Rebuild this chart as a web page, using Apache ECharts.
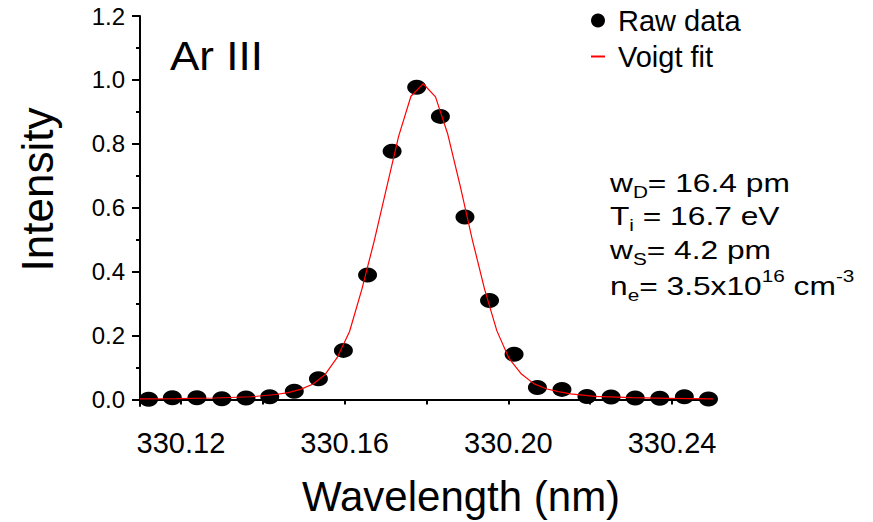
<!DOCTYPE html>
<html>
<head>
<meta charset="utf-8">
<title>Ar III line</title>
<script src="https://cdn.jsdelivr.net/npm/echarts@6/dist/echarts.min.js"></script>
<style>
  html, body { margin: 0; padding: 0; background: #fff; }
  #lineBox { width: 873px; height: 522px; }
</style>
</head>
<body>
<div id="lineBox"></div>
<script>
// measured points (nm, normalised intensity)
const rawX = [330.1121, 330.1179, 330.1239, 330.1300, 330.1359, 330.1417, 330.1477, 330.1536,
  330.1597, 330.1656, 330.1716, 330.1776, 330.1834, 330.1894, 330.1954, 330.2014,
  330.2071, 330.2131, 330.2192, 330.2251, 330.2310, 330.2370, 330.2430, 330.2489]
const rawY = [0.001, 0.006, 0.006, 0.003, 0.005, 0.009, 0.026, 0.065,
  0.154, 0.390, 0.777, 0.977, 0.886, 0.571, 0.310, 0.142,
  0.038, 0.032, 0.010, 0.008, 0.005, 0.004, 0.009, 0.002]

// voigt fit curve
const fitX = [330.1100, 330.1192, 330.1282, 330.1372, 330.1432, 330.1462, 330.1492, 330.1522,
  330.1552, 330.1582, 330.1612, 330.1642, 330.1672, 330.1702, 330.1732, 330.1762,
  330.1792, 330.1822, 330.1852, 330.1882, 330.1912, 330.1942, 330.1972, 330.2002,
  330.2032, 330.2062, 330.2092, 330.2122, 330.2152, 330.2212, 330.2302, 330.2392, 330.2500]
const fitY = [0.002, 0.003, 0.005, 0.009, 0.016, 0.022, 0.032, 0.048,
  0.078, 0.132, 0.213, 0.345, 0.495, 0.660, 0.824, 0.949,
  0.988, 0.947, 0.830, 0.670, 0.500, 0.345, 0.215, 0.128,
  0.080, 0.050, 0.034, 0.025, 0.018, 0.010, 0.006, 0.004, 0.002]

const xTicks = [330.12, 330.14, 330.16, 330.18, 330.20, 330.22, 330.24]
const xLabels = [330.12, 330.16, 330.20, 330.24]
const yLabels = [0.0, 0.2, 0.4, 0.6, 0.8, 1.0, 1.2]
const yMinorTicks = [0.1, 0.3, 0.5, 0.7, 0.9, 1.1]

const fontFam = 'Arial, "Liberation Sans", sans-serif'

const makeLineChart = () => {
  const chartDom = echarts.init(document.getElementById('lineBox'), null, { renderer: 'svg' })

  const rawData = rawX.map((x, i) => [x, rawY[i]])
  const fitData = fitX.map((x, i) => [x, fitY[i]])

  const annoRich = {
    b: { fontSize: 26, lineHeight: 36, fontFamily: fontFam, color: '#000' },
    sub: { fontSize: 17, lineHeight: 22, verticalAlign: 'bottom', fontFamily: fontFam, color: '#000' },
    sup: { fontSize: 17, lineHeight: 20, verticalAlign: 'top', fontFamily: fontFam, color: '#000' }
  }
  const annoLines = [
    '{b|w}{sub|D}{b|= 16.4 pm}',
    '{b|T}{sub|i}{b| = 16.7 eV}',
    '{b|w}{sub|S}{b|= 4.2 pm}',
    '{b|n}{sub|e}{b|= 3.5x10}{sup|16}{b| cm}{sup|-3}'
  ]
  const annoY = [183, 216, 250, 286]

  let option = {
    backgroundColor: '#fff',
    animation: false,
    grid: { left: 140, right: 160, top: 16, bottom: 114 },
    legend: {
      orient: 'vertical',
      left: 591,
      top: 6,
      padding: 0,
      itemWidth: 14,
      itemHeight: 14,
      itemGap: 7,
      textStyle: { fontSize: 29, color: '#000', fontFamily: fontFam, padding: [0, 0, 0, 8] },
      data: [
        { name: 'Raw data', icon: 'circle' },
        { name: 'Voigt fit', icon: 'path://M0,0H14V2H0Z' }
      ]
    },
    xAxis: {
      type: 'value',
      min: 330.11,
      max: 330.25,
      name: 'Wavelength (nm)',
      nameLocation: 'middle',
      nameGap: 69,
      nameTextStyle: { fontSize: 42, color: '#000', fontFamily: fontFam, padding: [0, 0, 0, 69] },
      axisLine: { lineStyle: { color: '#000', width: 2 } },
      axisTick: { customValues: xTicks, length: 5, lineStyle: { color: '#000', width: 2 } },
      axisLabel: {
        customValues: xLabels,
        margin: 22,
        fontSize: 29,
        color: '#000',
        fontFamily: fontFam,
        formatter: v => v.toFixed(2)
      },
      splitLine: { show: false }
    },
    yAxis: [
      {
        type: 'value',
        min: -0.02,
        max: 1.2,
        name: 'Intensity',
        nameLocation: 'middle',
        nameRotate: 90,
        nameGap: 81,
        nameTextStyle: { fontSize: 44, color: '#000', fontFamily: fontFam, padding: [0, 0, 0, 43] },
        axisLine: { show: true, lineStyle: { color: '#000', width: 2 } },
        axisTick: { customValues: yLabels, length: 8, lineStyle: { color: '#000', width: 2 } },
        axisLabel: {
          customValues: yLabels,
          margin: 15,
          fontSize: 24,
          color: '#000',
          fontFamily: fontFam,
          formatter: v => v.toFixed(1)
        },
        splitLine: { show: false }
      },
      {
        // minor ticks only
        type: 'value',
        min: -0.02,
        max: 1.2,
        position: 'left',
        axisLine: { show: false },
        axisTick: { show: true, customValues: yMinorTicks, length: 4, lineStyle: { color: '#000', width: 2 } },
        axisLabel: { show: false },
        splitLine: { show: false }
      }
    ],
    graphic: [
      {
        type: 'text',
        x: 170,
        y: 56,
        scaleX: 1.1,
        style: { text: 'Ar III', fontSize: 40, fontFamily: fontFam, fill: '#000', verticalAlign: 'middle' }
      }
    ].concat(annoLines.map((t, i) => ({
      type: 'text',
      x: 610,
      y: annoY[i],
      scaleX: 1.22,
      style: { text: t, rich: annoRich, fontSize: 26, fontFamily: fontFam, fill: '#000', verticalAlign: 'middle' }
    }))),
    series: [
      {
        name: 'Raw data',
        type: 'scatter',
        symbol: 'circle',
        symbolSize: [19, 15],
        itemStyle: { color: '#000', opacity: 1 },
        clip: true,
        data: rawData
      },
      {
        name: 'Voigt fit',
        type: 'line',
        showSymbol: false,
        symbol: 'none',
        smooth: false,
        lineStyle: { color: '#ff0000', width: 1.2 },
        itemStyle: { color: '#ff0000' },
        z: 5,
        data: fitData
      }
    ]
  }
  option && chartDom.setOption(option)
}

makeLineChart()
</script>
</body>
</html>
